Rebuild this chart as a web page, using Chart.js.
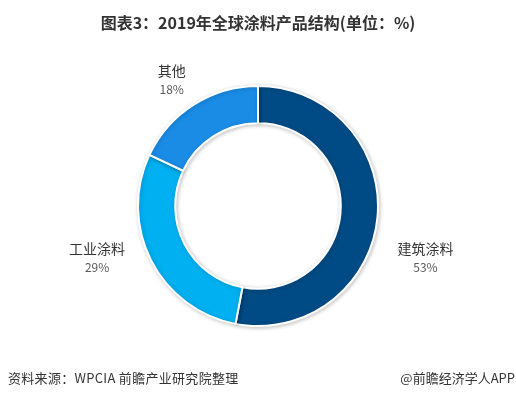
<!DOCTYPE html>
<html lang="zh">
  <head>
    <meta charset="UTF-8" />
    <title>2019年全球涂料产品结构</title>
    <script src="https://cdn.jsdelivr.net/npm/chart.js"></script>
    <style>
      body { margin: 0; background: #fff; font-family: "Noto Sans CJK SC", sans-serif; }
      #wrap { position: relative; width: 516px; height: 398px; overflow: hidden; }
      #chart { position: absolute; left: 0; top: 0; }
      .title { position: absolute; top: 11px; left: 0; width: 516px; text-align: center;
        font-size: 16px; font-weight: bold; color: #333; line-height: 22px; }
      .source { position: absolute; top: 369px; left: 8px; font-size: 13px; color: #333; line-height: 18px; letter-spacing: 0.3px; }
      .brand { position: absolute; top: 369px; right: 1px; font-size: 13px; color: #333; line-height: 18px; }
    </style>
  </head>
  <body>
    <div id="wrap">
      <canvas id="chart" width="516" height="398"></canvas>
      <div class="title">图表3：2019年全球涂料产品结构(单位：%)</div>
      <div class="source">资料来源：WPCIA 前瞻产业研究院整理</div>
      <div class="brand">@前瞻经济学人APP</div>
    </div>

    <script>
      const categories = ["建筑涂料", "工业涂料", "其他"];
      const shares = [53, 29, 18];
      const colors = ["#004b85", "#00b0f0", "#1a8ce6"];
      // label offset from the outer middle of each slice
      const labelOffsets = [[48, 40], [-54, -3], [-22, -25]];

      const ringShadow = {
        id: "ringShadow",
        beforeDatasetsDraw(chart) {
          const ctx = chart.ctx;
          ctx.save();
          ctx.shadowColor = "rgba(0,0,0,0.22)";
          ctx.shadowBlur = 4;
          ctx.shadowOffsetX = 1;
          ctx.shadowOffsetY = 1;
        },
        afterDatasetsDraw(chart) {
          chart.ctx.restore();
        },
      };

      const sliceLabels = {
        id: "sliceLabels",
        afterDatasetsDraw(chart) {
          const ctx = chart.ctx;
          const arcs = chart.getDatasetMeta(0).data;
          ctx.save();
          ctx.textAlign = "center";
          ctx.textBaseline = "middle";
          arcs.forEach((arc, i) => {
            const mid = (arc.startAngle + arc.endAngle) / 2;
            const x = arc.x + Math.cos(mid) * arc.outerRadius + labelOffsets[i][0];
            const y = arc.y + Math.sin(mid) * arc.outerRadius + labelOffsets[i][1];
            ctx.fillStyle = "#333";
            ctx.font = '14px "Noto Sans CJK SC"';
            ctx.fillText(categories[i], x, y - 9);
            ctx.fillStyle = "#595959";
            ctx.font = '12px "Noto Sans CJK SC"';
            ctx.fillText(shares[i] + "%", x, y + 10);
          });
          ctx.restore();
        },
      };

      new Chart(document.getElementById("chart"), {
        type: "doughnut",
        data: {
          labels: categories,
          datasets: [
            {
              data: shares,
              backgroundColor: colors,
              borderColor: "#fff",
              borderWidth: 2,
            },
          ],
        },
        options: {
          responsive: false,
          animation: false,
          cutout: "69%",
          layout: { padding: { top: 85, bottom: 71, left: 137, right: 137 } },
          plugins: {
            legend: { display: false },
            tooltip: { enabled: false },
          },
        },
        plugins: [ringShadow, sliceLabels],
      });
    </script>
  </body>
</html>
